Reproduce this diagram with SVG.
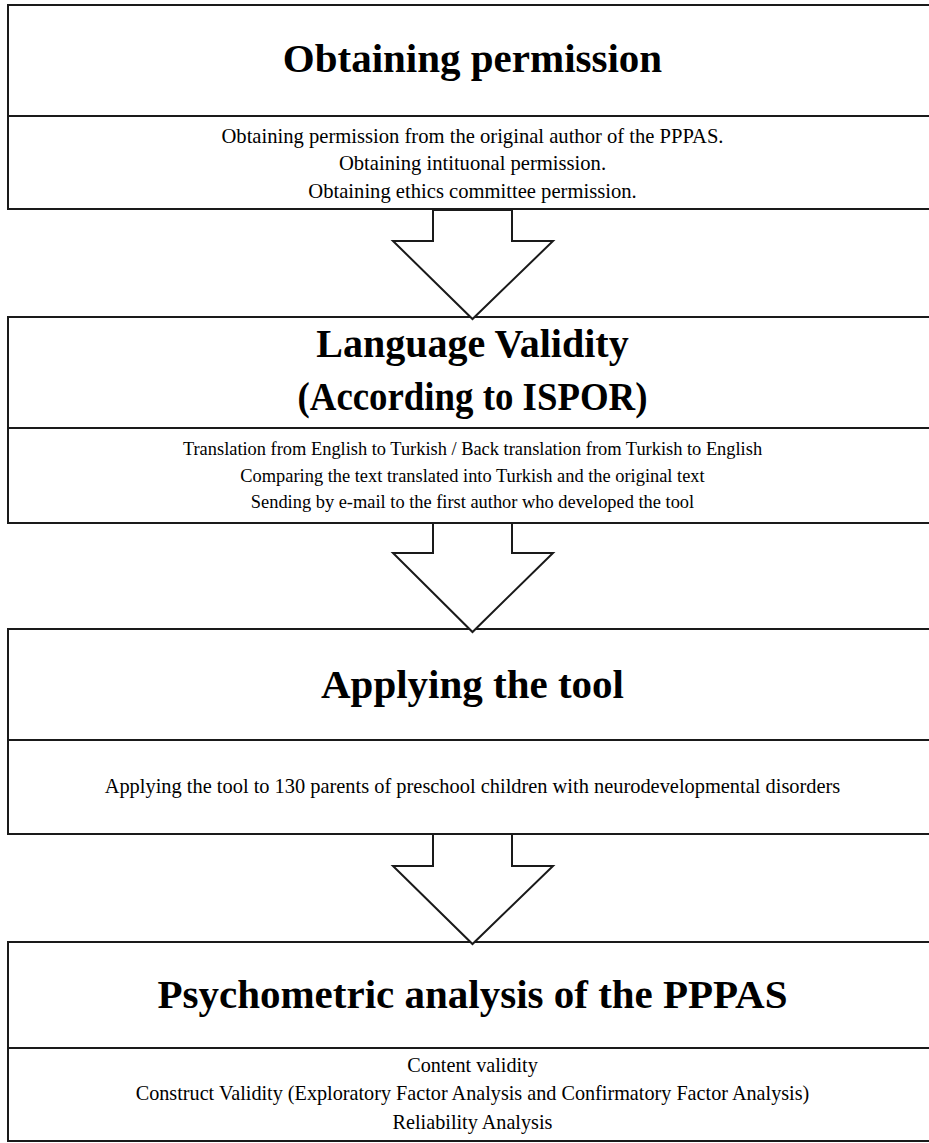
<svg xmlns="http://www.w3.org/2000/svg" width="929" height="1143" viewBox="0 0 929 1143">
<style>
.box{fill:#fff;stroke:#1a1a1a;stroke-width:2}
.div{stroke:#1a1a1a;stroke-width:2}
.arr{fill:#fff;stroke:#1a1a1a;stroke-width:2;stroke-linejoin:miter}
.t{font-family:"Liberation Serif","Times New Roman",serif;font-weight:bold;font-size:41px;fill:#000;text-anchor:middle}
.b{font-family:"Liberation Serif","Times New Roman",serif;font-size:20px;fill:#000;text-anchor:middle}
</style>
<rect width="929" height="1143" fill="#fff"/>
<g id="node-permission">
<rect class="box" x="8" y="5" width="930" height="204"/>
<line class="div" x1="8" y1="116" x2="938" y2="116"/>
<text class="t" x="472.5" y="72">Obtaining permission</text>
<text class="b" x="472.5" y="143" style="font-size:20.6px">Obtaining permission from the original author of the PPPAS.</text>
<text class="b" x="472.5" y="170" style="font-size:20.6px">Obtaining intituonal permission.</text>
<text class="b" x="472.5" y="198" style="font-size:20.6px">Obtaining ethics committee permission.</text>
</g>
<g id="node-language">
<rect class="box" x="8" y="317" width="930" height="206"/>
<line class="div" x1="8" y1="428" x2="938" y2="428"/>
<text class="t" x="472.5" y="357" style="font-size:40px">Language Validity</text>
<text class="t" x="472.5" y="410" style="font-size:40px" textLength="350" lengthAdjust="spacingAndGlyphs">(According to ISPOR)</text>
<text class="b" x="472.5" y="455" style="font-size:18.4px">Translation from English to Turkish / Back translation from Turkish to English</text>
<text class="b" x="472.5" y="482" style="font-size:18.4px">Comparing the text translated into Turkish and the original text</text>
<text class="b" x="472.5" y="508" style="font-size:18.4px">Sending by e-mail to the first author who developed the tool</text>
</g>
<g id="node-applying">
<rect class="box" x="8" y="629" width="930" height="205"/>
<line class="div" x1="8" y1="740" x2="938" y2="740"/>
<text class="t" x="472.5" y="698">Applying the tool</text>
<text class="b" x="472.5" y="793" style="font-size:20.4px">Applying the tool to 130 parents of preschool children with neurodevelopmental disorders</text>
</g>
<g id="node-psychometric">
<rect class="box" x="8" y="942" width="930" height="199"/>
<line class="div" x1="8" y1="1048" x2="938" y2="1048"/>
<text class="t" x="472.5" y="1008">Psychometric analysis of the PPPAS</text>
<text class="b" x="472.5" y="1072" style="font-size:20.2px">Content validity</text>
<text class="b" x="472.5" y="1100" style="font-size:20.2px">Construct Validity (Exploratory Factor Analysis and Confirmatory Factor Analysis)</text>
<text class="b" x="472.5" y="1129" style="font-size:20.2px">Reliability Analysis</text>
</g>
<g id="connectors">
<polygon class="arr" points="433,210 433,241 393,241 472.5,319 553,241 512,241 512,210"/>
<polygon class="arr" points="433,523 433,553 393,553 472.5,632 553,553 512,553 512,523"/>
<polygon class="arr" points="433,834 433,866 393,866 472.5,944 553,866 512,866 512,834"/>
</g>
</svg>
